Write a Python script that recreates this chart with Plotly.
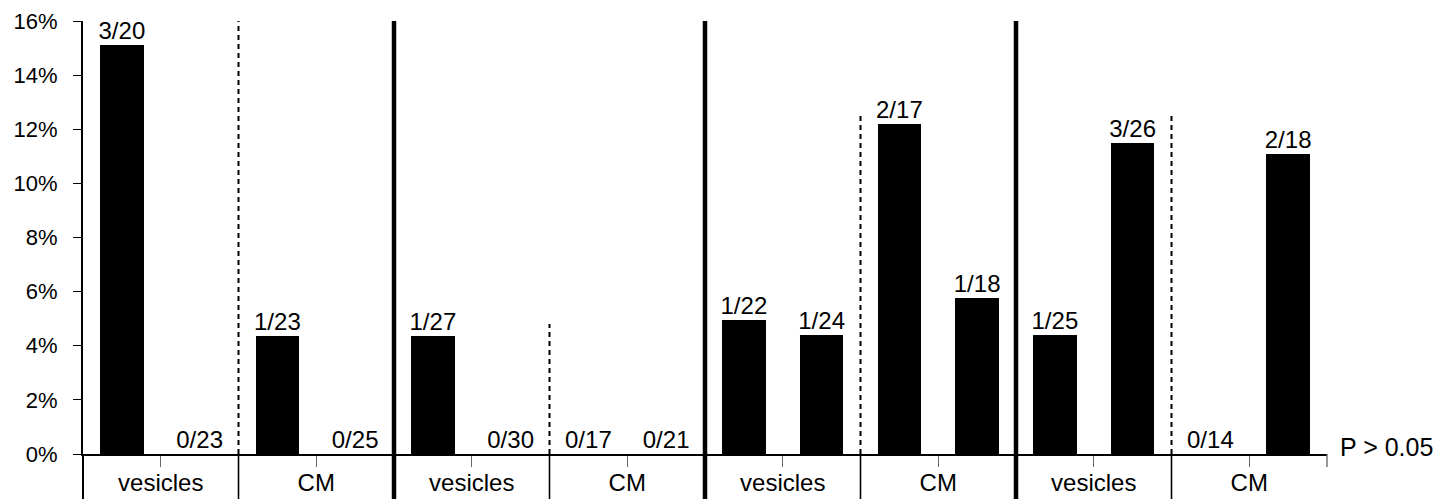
import plotly.graph_objects as go

# ---- data ----
categories = ["vesicles", "CM", "vesicles", "CM", "vesicles", "CM", "vesicles", "CM"]
bar_labels = ["3/20", "0/23", "1/23", "0/25",
              "1/27", "0/30", "0/17", "0/21",
              "1/22", "1/24", "2/17", "1/18",
              "1/25", "3/26", "0/14", "2/18"]
bar_values = [15.1, 0, 4.35, 0,
              4.35, 0, 0, 0,
              4.95, 4.4, 12.2, 5.75,
              4.4, 11.5, 0, 11.1]
y_ticks = [0, 2, 4, 6, 8, 10, 12, 14, 16]
note_text = "P > 0.05"

# ---- styling / decoration settings ----
FONT = "Liberation Sans, Arial, Helvetica, sans-serif"
bars_per_cat = 2
cats_per_panel = 2
dashed_tops = [16, 4.8, 12.55, 12.55]   # heights of the dashed separators (axis units)
below = -0.11                           # paper-y reached by lines under the axis

n = len(bar_values)
xs = list(range(n))

fig = go.Figure()
fig.add_trace(go.Bar(
    x=xs, y=bar_values, width=0.56,
    marker=dict(color="black", line=dict(width=0)),
    hoverinfo="skip", showlegend=False,
))
fig.add_trace(go.Scatter(
    x=xs, y=bar_values, mode="text", text=bar_labels,
    textposition="top center",
    textfont=dict(family=FONT, size=24, color="black"),
    hoverinfo="skip", showlegend=False, cliponaxis=False,
))

cat_centers = [i * bars_per_cat + (bars_per_cat - 1) / 2 for i in range(len(categories))]

shapes = []
# separators between categories
for ci in range(1, len(categories)):
    xb = ci * bars_per_cat - 0.5
    if ci % cats_per_panel == 0:
        # thick panel separator, full height
        shapes.append(dict(type="line", xref="x", yref="paper", x0=xb, x1=xb,
                           y0=1, y1=below, line=dict(color="black", width=4.5),
                           layer="above"))
    else:
        k = ci // cats_per_panel
        shapes.append(dict(type="line", xref="x", yref="y", x0=xb, x1=xb,
                           y0=0, y1=dashed_tops[k],
                           line=dict(color="black", width=2, dash="5px,4px"),
                           layer="above"))
        shapes.append(dict(type="line", xref="x", yref="paper", x0=xb, x1=xb,
                           y0=0, y1=below, line=dict(color="black", width=1.6),
                           layer="above"))
# y-axis line continuing below baseline
shapes.append(dict(type="line", xref="paper", yref="paper", x0=0, x1=0,
                   y0=0, y1=below, line=dict(color="black", width=2), layer="above"))
# end tick at right of baseline
shapes.append(dict(type="line", xref="paper", yref="paper", x0=1, x1=1,
                   y0=0, y1=-0.03, line=dict(color="#555", width=1.2), layer="above"))

fig.update_layout(
    width=1442, height=499,
    margin=dict(l=83, r=115, t=21, b=45, autoexpand=False),
    paper_bgcolor="white", plot_bgcolor="white",
    font=dict(family=FONT, size=22, color="black"),
    bargap=0,
    shapes=shapes,
    annotations=[dict(text=note_text, xref="paper", yref="y", x=1, y=0,
                      xanchor="left", yanchor="middle", xshift=11, yshift=7,
                      showarrow=False, font=dict(family=FONT, size=25, color="black"))],
)
fig.update_xaxes(
    range=[-0.5, n - 0.5],
    tickmode="array", tickvals=cat_centers, ticktext=categories,
    ticks="outside", ticklen=11, tickwidth=1, tickcolor="#666",
    tickfont=dict(family=FONT, size=24),
    ticklabelstandoff=-5,
    showline=True, linecolor="black", linewidth=2.2,
    showgrid=False, zeroline=False, fixedrange=True, automargin=False,
)
fig.update_yaxes(
    range=[0, 16],
    tickmode="array", tickvals=y_ticks, ticktext=[f"{v}%" for v in y_ticks],
    ticks="outside", ticklen=8, tickwidth=1.2, tickcolor="black",
    tickfont=dict(family=FONT, size=22),
    ticklabelstandoff=11,
    showline=True, linecolor="black", linewidth=2,
    showgrid=False, zeroline=False, fixedrange=True, automargin=False,
)

fig.write_html(
    "out.html",
    config={"displayModeBar": False},
    post_script="document.body.style.margin='0px';document.body.style.overflow='hidden';",
)
